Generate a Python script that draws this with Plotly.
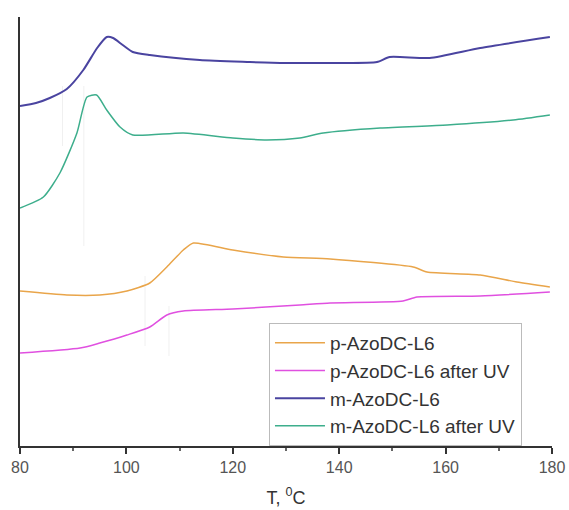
import plotly.graph_objects as go

# Temperature (°C) and relative heat-flow readings (a.u.)
m_T = [80, 83, 85.6, 88.8, 91.9, 94.5, 96.3, 97.5, 99.3, 101.2, 104.4, 113.8, 123.2, 128.9, 132.6, 140, 147.1, 149.5, 157, 166.5, 179.6]
m_Y = [340, 343, 348, 357, 376, 398, 409, 408, 401, 394, 391, 386, 384, 383, 383, 383, 384, 389, 388, 398, 409]

mUV_T = [80, 84.4, 87.5, 90.7, 92.6, 94.4, 96.3, 98.8, 101.2, 110.7, 120, 126.4, 132.6, 137, 147.7, 160.3, 172.7, 179.6]
mUV_Y = [238, 249, 273, 313, 349, 351, 336, 319, 311, 313, 308, 306, 308, 313, 318, 321, 326, 331]

p_T = [80, 88.8, 95, 100.1, 104.4, 107.6, 110.7, 112.6, 120, 129.5, 138.3, 153.9, 156.5, 166.5, 173.4, 179.6]
p_Y = [155, 151, 151, 155, 163, 179, 196, 203, 196, 189, 187, 179, 174, 171, 164, 159]

pUV_T = [80, 91.3, 95, 100.1, 104.4, 107.6, 110.7, 120, 132.6, 138.3, 152, 154.6, 166.5, 179.6]
pUV_Y = [93, 98, 103, 111, 119, 131, 135, 137, 141, 143, 145, 149, 150, 154]

# faint onset/endset construction marks (vertical guides)
guide_T = [88, 92, 103.5, 108]
guide_lo = [300, 200, 100, 90]
guide_hi = [360, 360, 170, 140]

series = [
    ("p-AzoDC-L6", p_T, p_Y, "#E9A54A", 1.5),
    ("p-AzoDC-L6 after UV", pUV_T, pUV_Y, "#E050E0", 1.5),
    ("m-AzoDC-L6", m_T, m_Y, "#4A44A0", 2.0),
    ("m-AzoDC-L6 after UV", mUV_T, mUV_Y, "#3DAE8C", 1.5),
]

fig = go.Figure()
gx, gy = [], []
for t, lo, hi in zip(guide_T, guide_lo, guide_hi):
    gx += [t, t, None]
    gy += [lo, hi, None]
fig.add_trace(go.Scatter(x=gx, y=gy, mode="lines", showlegend=False,
                         hoverinfo="skip", line=dict(color="#f0f0f0", width=1)))
for name, x, y, c, w in series:
    fig.add_trace(go.Scatter(x=x, y=y, mode="lines", name=name,
                             line=dict(color=c, width=w, shape="spline", smoothing=0.6)))

fig.update_layout(
    width=569, height=510,
    margin=dict(l=20, r=17, t=17, b=64),
    paper_bgcolor="white", plot_bgcolor="white",
    font=dict(family="Liberation Sans, Arial, sans-serif", color="#333"),
    xaxis=dict(range=[80, 180], tickvals=[80, 100, 120, 140, 160, 180],
               ticks="outside", ticklen=6, tickcolor="#333", tickwidth=1.5,
               minor=dict(tickvals=[90, 110, 130, 150, 170], ticks="outside", ticklen=3, tickcolor="#666"),
               showline=True, linecolor="#333", linewidth=1.5, showgrid=False, zeroline=False,
               tickfont=dict(size=16, color="#555"), automargin=False,
               title=dict(text="T, <sup>0</sup>C", font=dict(size=18, color="#333"), standoff=16)),
    yaxis=dict(range=[0, 429], showticklabels=False, ticks="", showline=True, automargin=False,
               linecolor="#333", linewidth=1.5, showgrid=False, zeroline=False),
    legend=dict(x=0.468, y=0.287, xanchor="left", yanchor="top",
                bordercolor="#bbb", borderwidth=1, bgcolor="white",
                font=dict(size=19, color="#333"), tracegroupgap=0, itemwidth=50),
    showlegend=True,
)

fig.write_html("out.html", config={"displayModeBar": False},
               post_script="document.body.style.margin='0';")
